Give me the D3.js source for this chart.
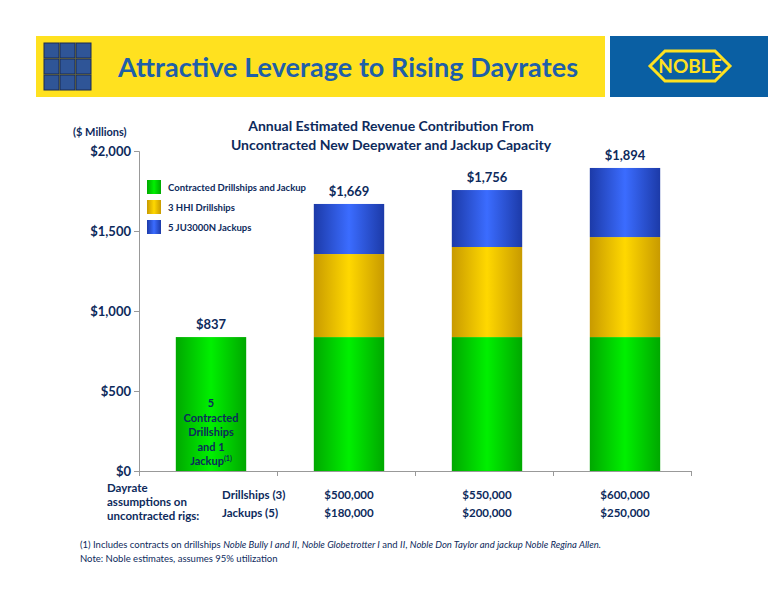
<!DOCTYPE html>
<html><head><meta charset="utf-8">
<script src="https://cdn.jsdelivr.net/npm/d3@7"></script>
<style>body{margin:0;background:#fff}svg{font-family:Lato,"Open Sans",sans-serif}</style>
</head><body><svg id="c" width="776" height="600"></svg>
<script>
var categories = ["now", "d1", "d2", "d3"];
var contracted = [837, 837, 837, 837];
var hhiDrill = [0, 519, 563, 625];
var jackups = [0, 313, 356, 432];
var totals = ["$837", "$1,669", "$1,756", "$1,894"];
var yTicks = [0, 500, 1000, 1500, 2000];
var drillRates = ["", "$500,000", "$550,000", "$600,000"];
var jackRates = ["", "$180,000", "$200,000", "$250,000"];
var seriesNames = ["Contracted Drillships and Jackup", "3 HHI Drillships", "5 JU3000N Jackups"];

var navy = "#0d2a5c";
var svg = d3.select("#c");
var defs = svg.append("defs");
var grads = [["gG","#00a800","#00f000"],["gY","#c89a00","#ffd800"],["gB","#1c3aa8","#3b6cff"]];
grads.forEach(function(g){
    var lg = defs.append("linearGradient").attr("id", g[0]);
    lg.append("stop").attr("offset", "0%").attr("stop-color", g[1]);
    lg.append("stop").attr("offset", "50%").attr("stop-color", g[2]);
    lg.append("stop").attr("offset", "100%").attr("stop-color", g[1]);
});

// header
svg.append("rect").attr("x", 36).attr("y", 36).attr("width", 569).attr("height", 61).attr("fill", "#ffe11f");
svg.append("rect").attr("x", 610).attr("y", 36).attr("width", 158).attr("height", 61).attr("fill", "#0a5fa3");
for (var r = 0; r < 3; r++) for (var c = 0; c < 3; c++)
    svg.append("rect").attr("x", 44 + c*16).attr("y", 43 + r*16).attr("width", 15).attr("height", 15)
       .attr("fill", "#2f5597").attr("stroke", "#1a2a50");
svg.append("text").attr("x", 348).attr("y", 77).attr("text-anchor", "middle").attr("font-size", 27)
   .attr("font-weight", "bold").attr("fill", "#1f5fa8").attr("textLength", 460)
   .text("Attractive Leverage to Rising Dayrates");
svg.append("path").attr("d", "M650,66 L665,51 L715,51 L730,66 L715,81 L665,81 Z").attr("fill", "none")
   .attr("stroke", "#ffe11f").attr("stroke-width", 3);
svg.append("text").attr("x", 690).attr("y", 73).attr("text-anchor", "middle").attr("font-size", 19)
   .attr("font-weight", "bold").attr("fill", "#ffe11f").text("NOBLE");

// chart
var x = d3.scaleBand().domain(categories).range([142, 694]).paddingInner(0.49).paddingOuter(0.245);
var y = d3.scaleLinear().domain([0, 2000]).range([471, 151]);
var xa = d3.scaleLinear().domain([0, 4]).range([139, 691]);

svg.append("text").attr("x", 391).attr("y", 131).attr("text-anchor", "middle").attr("font-size", 14)
   .attr("font-weight", "bold").attr("fill", navy).text("Annual Estimated Revenue Contribution From");
svg.append("text").attr("x", 391).attr("y", 150).attr("text-anchor", "middle").attr("font-size", 14)
   .attr("font-weight", "bold").attr("fill", navy).text("Uncontracted New Deepwater and Jackup Capacity");
svg.append("text").attr("x", 73).attr("y", 136).attr("font-size", 11).attr("font-weight", "bold")
   .attr("fill", navy).text("($ Millions)");

var yAxis = svg.append("g").attr("transform", "translate(139,0)")
   .call(d3.axisLeft(y).tickValues(yTicks).tickSize(5).tickFormat(function(d){ return "$" + d3.format(",")(d); }));
yAxis.selectAll("text").attr("font-size", 13).attr("font-weight", "bold").attr("fill", navy).attr("font-family", "Lato");
yAxis.selectAll("line,path").attr("stroke", "#999");

var xAxis = svg.append("g").attr("transform", "translate(0,471)")
   .call(d3.axisBottom(xa).ticks(4).tickSize(5).tickFormat(""));
xAxis.selectAll("line,path").attr("stroke", "#999");

var stack = d3.stack().keys([0, 1, 2]).value(function(d, k){ return [contracted, hhiDrill, jackups][k][d]; });
var layers = stack(d3.range(categories.length));
var fills = ["url(#gG)", "url(#gY)", "url(#gB)"];
layers.forEach(function(layer, k){
    svg.selectAll(null).data(layer).enter().append("rect")
       .attr("x", function(d, i){ return x(categories[i]); })
       .attr("width", x.bandwidth())
       .attr("y", function(d){ return y(d[1]); })
       .attr("height", function(d){ return y(d[0]) - y(d[1]); })
       .attr("fill", fills[k]);
});

var sums = categories.map(function(c, i){ return contracted[i] + hhiDrill[i] + jackups[i]; });
svg.selectAll(null).data(totals).enter().append("text")
   .attr("x", function(d, i){ return x(categories[i]) + x.bandwidth()/2; })
   .attr("y", function(d, i){ return y(sums[i]) - 8; })
   .attr("text-anchor", "middle").attr("font-size", 13).attr("font-weight", "bold").attr("fill", navy)
   .text(function(d){ return d; });

// inside label
var inner = ["5", "Contracted", "Drillships", "and 1"];
var cx = x(categories[0]) + x.bandwidth()/2;
inner.forEach(function(t, i){
    svg.append("text").attr("x", cx).attr("y", 407 + i*14.5).attr("text-anchor", "middle").attr("font-size", 11)
       .attr("font-weight", "bold").attr("fill", navy).text(t);
});
var jt = svg.append("text").attr("x", cx).attr("y", 465).attr("text-anchor", "middle").attr("font-size", 11)
   .attr("font-weight", "bold").attr("fill", navy).text("Jackup");
jt.append("tspan").attr("font-size", 7).attr("dy", -4).text("(1)");

// legend
var lg = svg.append("g");
seriesNames.forEach(function(n, i){
    lg.append("rect").attr("x", 147).attr("y", 180 + i*20).attr("width", 14).attr("height", 14).attr("fill", fills[i]);
    lg.append("text").attr("x", 168).attr("y", 191 + i*20).attr("font-size", 9.5).attr("font-weight", "bold")
      .attr("fill", navy).text(n);
});

// dayrate table
var tb = svg.append("g").attr("font-size", 11.5).attr("font-weight", "bold").attr("fill", navy);
["Dayrate", "assumptions on", "uncontracted rigs:"].forEach(function(t, i){
    tb.append("text").attr("x", 107).attr("y", 492 + i*14).text(t);
});
tb.append("text").attr("x", 222).attr("y", 499).text("Drillships (3)");
tb.append("text").attr("x", 222).attr("y", 517).text("Jackups (5)");
drillRates.forEach(function(t, i){
    if (!t) return;
    var xc = x(categories[i]) + x.bandwidth()/2;
    tb.append("text").attr("x", xc).attr("y", 499).attr("text-anchor", "middle").text(t);
    tb.append("text").attr("x", xc).attr("y", 517).attr("text-anchor", "middle").text(jackRates[i]);
});

// footnotes
var fn = svg.append("text").attr("x", 80).attr("y", 548).attr("font-size", 9.5).attr("fill", navy);
[["(1) Includes contracts on drillships ", 0], ["Noble Bully I and II", 1], [", ", 0], ["Noble Globetrotter I", 1],
 [" and ", 0], ["II", 1], [", ", 0], ["Noble Don Taylor and jackup Noble Regina Allen.", 1]].forEach(function(p){
    fn.append("tspan").attr("font-style", p[1] ? "italic" : "normal").text(p[0]);
});
svg.append("text").attr("x", 80).attr("y", 562).attr("font-size", 9.5).attr("fill", navy)
   .text("Note:  Noble estimates, assumes 95% utilization");
</script></body></html>
